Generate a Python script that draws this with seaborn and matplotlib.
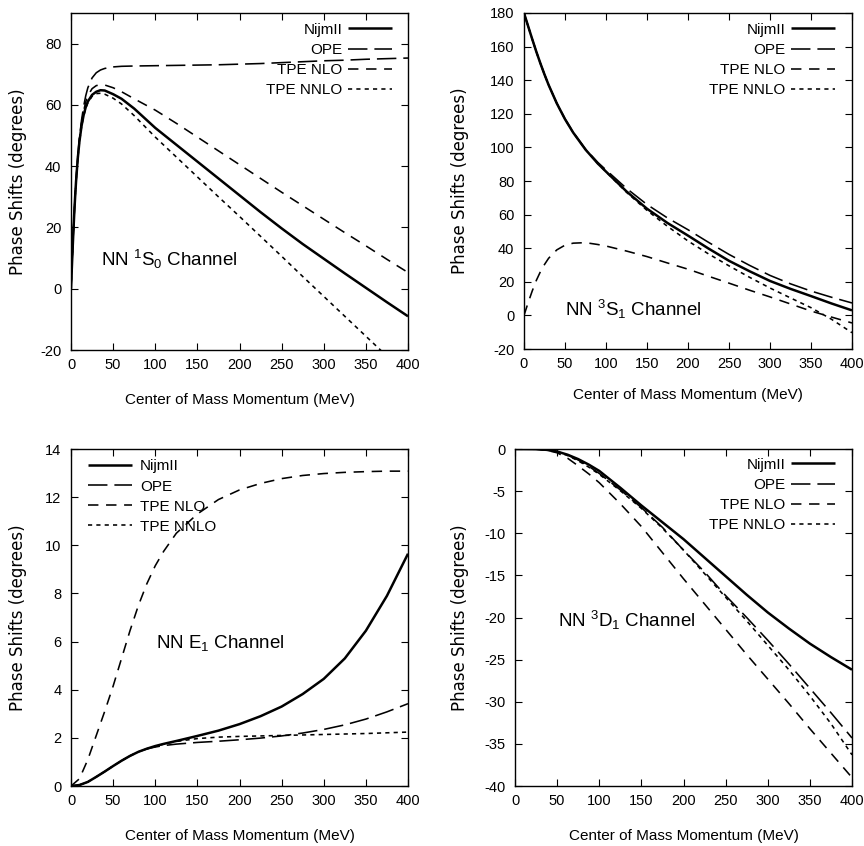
import numpy as np
import pandas as pd
import matplotlib
matplotlib.use("Agg")
import matplotlib.pyplot as plt
import seaborn as sns
from matplotlib import font_manager

# ---------------- data ----------------
series_names = ["NijmII", "OPE", "TPE NLO", "TPE NNLO"]

# 1S0 channel
p_1s0 = [0, 1, 2, 3, 4, 5, 6, 8, 10, 12.5, 15, 17.5, 20, 25, 30, 35, 40, 50, 60, 75,
         100, 125, 150, 175, 200, 225, 250, 275, 300, 325, 350, 375, 400]
nijm_1s0 = [0, 6.86, 13.49, 19.71, 25.41, 30.5, 35.03, 42.45, 48.03, 53.12, 56.7, 59.26, 61.1,
            63.27, 64.3, 64.8, 64.7, 63.5, 62.0, 58.8, 52.5, 47.0, 41.5, 36.0, 30.5, 25.0,
            19.7, 14.6, 9.8, 5.0, 0.3, -4.4, -9.0]
ope_1s0 = [0, 6.9, 13.5, 19.8, 25.6, 30.8, 35.5, 43.2, 49.2, 55.0, 59.5, 63.0, 65.6, 68.8,
           70.5, 71.4, 71.9, 72.4, 72.6, 72.7, 72.8, 72.9, 73.0, 73.1, 73.3, 73.5, 73.8,
           74.1, 74.4, 74.6, 74.9, 75.1, 75.3]
nlo_1s0 = [0, 6.9, 13.5, 19.75, 25.5, 30.6, 35.2, 42.8, 48.6, 54.0, 58.0, 61.0, 63.0, 65.3,
           66.3, 66.6, 66.5, 65.6, 64.3, 62.0, 58.3, 54.0, 49.5, 45.0, 40.5, 36.0, 31.5,
           27.1, 22.7, 18.3, 14.0, 9.6, 5.3]
p_1s0_nnlo = [0, 1, 2, 3, 4, 5, 6, 8, 10, 12.5, 15, 17.5, 20, 25, 30, 35, 40, 50, 60, 75,
              100, 125, 150, 175, 200, 225, 250, 275, 300, 325, 350, 370]
nnlo_1s0 = [0, 6.85, 13.4, 19.6, 25.3, 30.3, 34.8, 42.2, 47.8, 52.8, 56.3, 58.9, 60.7, 62.8,
            63.7, 63.8, 63.5, 62.2, 60.3, 56.5, 49.5, 43.0, 36.5, 30.0, 23.6, 17.1, 10.6,
            4.0, -2.5, -9.0, -15.5, -20.7]

# 3S1 channel
p_3s1 = [0, 5, 10, 15, 20, 25, 30, 40, 50, 60, 75, 90, 100, 125, 150, 175, 200, 225, 250,
         275, 300, 325, 350, 375, 400]
nijm_3s1 = [180, 172.2, 164.5, 157.0, 150.0, 143.4, 137.2, 126.2, 116.8, 108.8, 98.7, 90.4,
            85.6, 73.8, 63.5, 55.0, 47.5, 39.8, 32.5, 26.3, 20.5, 15.8, 11.5, 7.1, 3.0]
ope_3s1 = [180, 172.2, 164.5, 157.0, 150.0, 143.4, 137.2, 126.3, 117.0, 109.0, 99.0, 91.1,
           86.6, 75.6, 66.0, 58.0, 51.0, 43.5, 36.3, 29.8, 23.8, 18.8, 14.5, 10.8, 7.4]
nlo_3s1 = [0, 7.5, 14.5, 20.8, 26.0, 30.3, 34.0, 39.0, 41.8, 43.0, 43.3, 42.2, 41.3, 38.3,
           35.0, 31.2, 27.5, 23.3, 19.2, 15.0, 11.0, 6.8, 2.6, -1.0, -4.5]
nnlo_3s1 = [180, 172.2, 164.5, 157.0, 150.0, 143.4, 137.2, 126.2, 116.8, 108.8, 98.7, 90.4,
            85.5, 73.3, 62.5, 53.0, 44.3, 36.6, 29.5, 22.7, 16.3, 10.4, 4.6, -2.3, -10.3]

# E1 mixing
p_e1 = [0, 10, 20, 30, 40, 50, 60, 70, 80, 90, 100, 110, 125, 150, 175, 200, 225, 250,
        275, 300, 325, 350, 375, 400]
nijm_e1 = [0, 0.04, 0.17, 0.38, 0.6, 0.83, 1.05, 1.25, 1.42, 1.55, 1.66, 1.75, 1.87, 2.08,
           2.3, 2.57, 2.9, 3.3, 3.82, 4.45, 5.3, 6.45, 7.9, 9.65]
ope_e1 = [0, 0.04, 0.17, 0.38, 0.6, 0.83, 1.05, 1.25, 1.42, 1.54, 1.62, 1.68, 1.74, 1.81,
          1.86, 1.92, 1.99, 2.08, 2.2, 2.35, 2.54, 2.78, 3.08, 3.42]
nlo_e1 = [0, 0.3, 1.1, 2.1, 3.1, 4.15, 5.3, 6.45, 7.5, 8.4, 9.15, 9.75, 10.5, 11.3, 11.9,
          12.3, 12.57, 12.77, 12.9, 12.98, 13.03, 13.06, 13.08, 13.08]
nnlo_e1 = [0, 0.04, 0.17, 0.38, 0.6, 0.83, 1.05, 1.25, 1.42, 1.55, 1.64, 1.74, 1.85, 1.97,
           2.03, 2.06, 2.08, 2.1, 2.12, 2.14, 2.16, 2.18, 2.21, 2.24]

# 3D1 channel
p_3d1 = [0, 25, 37.5, 50, 62.5, 75, 87.5, 100, 125, 150, 175, 200, 225, 250, 275, 300,
         325, 350, 375, 400]
nijm_3d1 = [0, -0.02, -0.1, -0.3, -0.68, -1.2, -1.85, -2.6, -4.6, -6.7, -8.7, -10.7, -12.9,
            -15.1, -17.3, -19.4, -21.3, -23.1, -24.7, -26.2]
ope_3d1 = [0, -0.02, -0.1, -0.3, -0.72, -1.3, -2.05, -2.9, -4.85, -6.95, -9.3, -12.0, -14.6,
           -17.4, -20.0, -22.7, -25.5, -28.4, -31.3, -34.3]
nlo_3d1 = [0, -0.03, -0.15, -0.45, -1.1, -2.0, -2.95, -4.0, -6.5, -9.2, -12.3, -15.4, -18.4,
           -21.4, -24.4, -27.3, -30.2, -33.2, -36.1, -39.0]
nnlo_3d1 = [0, -0.02, -0.11, -0.33, -0.78, -1.4, -2.15, -3.0, -4.95, -7.05, -9.4, -12.0,
            -14.8, -17.6, -20.4, -23.3, -26.2, -29.3, -32.6, -36.3]

x_ticks = [0, 50, 100, 150, 200, 250, 300, 350, 400]
x_label = "Center of Mass Momentum (MeV)"
y_label = "Phase Shifts (degrees)"
channel_labels = [r"NN $^1$S$_0$ Channel", r"NN $^3$S$_1$ Channel",
                  r"NN E$_1$ Channel", r"NN $^3$D$_1$ Channel"]

# ---------------- style ----------------
sns.set_style("ticks")
names = {f.name for f in font_manager.fontManager.ttflist}
NARROW = "Liberation Sans Narrow" if "Liberation Sans Narrow" in names else "Liberation Sans"
plt.rcParams["font.family"] = [NARROW, "DejaVu Sans"]
plt.rcParams["axes.unicode_minus"] = False
plt.rcParams["mathtext.fontset"] = "custom"
plt.rcParams["mathtext.rm"] = NARROW
plt.rcParams["mathtext.it"] = NARROW
plt.rcParams["mathtext.default"] = "regular"
plt.rcParams["lines.scale_dashes"] = False
for key in ["text.color", "axes.labelcolor", "xtick.color", "ytick.color",
            "xtick.labelcolor", "ytick.labelcolor", "axes.edgecolor"]:
    plt.rcParams[key] = "black"

line_styles = {
    "NijmII": (1.8, None),
    "OPE": (1.15, (14, 5)),
    "TPE NLO": (1.15, (7.5, 5.5)),
    "TPE NNLO": (1.15, (3, 3)),
}

TICK_FS = 10.5
LAB_FS = 11
LEG_FS = 11
CH_FS = 13.5

fig = plt.figure(figsize=(8.64, 8.46), dpi=100)
W, H = 864.0, 846.0

def add_ax(left, top, right, bottom):
    return fig.add_axes([left / W, 1 - bottom / H, (right - left) / W, (bottom - top) / H])

panels = [
    dict(box=(71, 13, 408, 350), p=[p_1s0, p_1s0, p_1s0, p_1s0_nnlo],
         v=[nijm_1s0, ope_1s0, nlo_1s0, nnlo_1s0], ylim=(-20, 90),
         yticks=[-20, 0, 20, 40, 60, 80], text=(36, 7.3), ylab_x=-0.157, xlab_y=-0.148,
         leg=dict(loc="upper right", anchor=(0.9525, 0.971), first=False, pad=0.35)),
    dict(box=(524, 13, 852, 349), p=[p_3s1] * 4,
         v=[nijm_3s1, ope_3s1, nlo_3s1, nnlo_3s1], ylim=(-20, 180),
         yticks=list(range(-20, 181, 20)), text=(50, -0.5), ylab_x=-0.195, xlab_y=-0.137,
         leg=dict(loc="upper right", anchor=(0.948, 0.971), first=False, pad=0.35)),
    dict(box=(71, 449, 408, 786), p=[p_e1] * 4,
         v=[nijm_e1, ope_e1, nlo_e1, nnlo_e1], ylim=(0, 14),
         yticks=list(range(0, 15, 2)), text=(101, 5.74), ylab_x=-0.157, xlab_y=-0.148,
         leg=dict(loc="upper left", anchor=(0.05, 0.969), first=True, pad=0.5)),
    dict(box=(515, 449, 852, 786), p=[p_3d1] * 4,
         v=[nijm_3d1, ope_3d1, nlo_3d1, nnlo_3d1], ylim=(-40, 0),
         yticks=list(range(-40, 1, 5)), text=(51, -21.1), ylab_x=-0.163, xlab_y=-0.148,
         leg=dict(loc="upper right", anchor=(0.9496, 0.974), first=False, pad=0.35)),
]

for idx, pan in enumerate(panels):
    ax = add_ax(*pan["box"])
    for name, px, vals in zip(series_names, pan["p"], pan["v"]):
        lw, dash = line_styles[name]
        df = pd.DataFrame({"p": px, "delta": vals})
        sns.lineplot(data=df, x="p", y="delta", ax=ax, color="black", linewidth=lw,
                     label=name, legend=False, estimator=None, sort=False)
        line = ax.lines[-1]
        if dash is not None:
            line.set_dashes(dash)
        line.set_solid_capstyle("butt")
        line.set_solid_joinstyle("round")
    ax.set_xlim(0, 400)
    ax.set_ylim(*pan["ylim"])
    ax.set_xticks(x_ticks)
    ax.set_yticks(pan["yticks"])
    ax.tick_params(direction="in", top=True, right=True, length=5, width=0.8,
                   labelsize=TICK_FS, colors="black")
    ax.tick_params(axis="y", pad=7)
    ax.tick_params(axis="x", pad=6)
    for s in ax.spines.values():
        s.set_linewidth(1.0)
        s.set_color("black")
        s.set_visible(True)
    ax.set_xlabel(x_label, fontsize=LAB_FS, color="black")
    ax.set_ylabel(y_label, fontsize=12, family=["DejaVu Sans"], color="black")
    ax.xaxis.label.set_va("center")
    ax.yaxis.label.set_va("center")
    ax.xaxis.set_label_coords(0.5, pan["xlab_y"])
    ax.yaxis.set_label_coords(pan["ylab_x"], 0.5)
    tx, ty = pan["text"]
    ax.text(tx, ty, channel_labels[idx], fontsize=CH_FS, va="baseline", ha="left",
            color="black")
    lg = pan["leg"]
    leg = ax.legend(loc=lg["loc"], bbox_to_anchor=lg["anchor"], frameon=False, borderpad=0,
                    borderaxespad=0, handlelength=2.9, handletextpad=lg["pad"],
                    labelspacing=0.4, fontsize=LEG_FS, markerfirst=lg["first"])
    for t in leg.get_texts():
        t.set_color("black")

fig.savefig("out.png", dpi=100)
